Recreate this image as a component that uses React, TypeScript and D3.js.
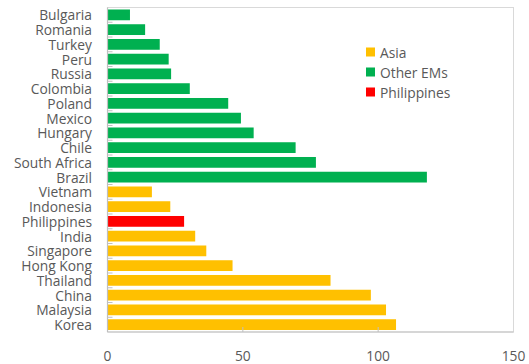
import React from "react";
import * as d3 from "d3";

// Categories listed top to bottom
const categories = [
  "Bulgaria", "Romania", "Turkey", "Peru", "Russia", "Colombia", "Poland",
  "Mexico", "Hungary", "Chile", "South Africa", "Brazil", "Vietnam",
  "Indonesia", "Philippines", "India", "Singapore", "Hong Kong", "Thailand",
  "China", "Malaysia", "Korea",
];
const values = [
  8.3, 13.9, 19.3, 22.6, 23.5, 30.4, 44.6, 49.3, 54.0, 69.5, 77.0, 118.0,
  16.4, 23.2, 28.3, 32.4, 36.5, 46.2, 82.4, 97.3, 102.9, 106.6,
];
const groups = [
  "Other EMs", "Other EMs", "Other EMs", "Other EMs", "Other EMs", "Other EMs",
  "Other EMs", "Other EMs", "Other EMs", "Other EMs", "Other EMs", "Other EMs",
  "Asia", "Asia", "Philippines", "Asia", "Asia", "Asia", "Asia", "Asia",
  "Asia", "Asia",
];
const legendItems = ["Asia", "Other EMs", "Philippines"];
const groupColors = ["#FFC000", "#00B050", "#FF0000"];
const xTicks = [0, 50, 100, 150];

const W = 529;
const H = 364;
const M = { left: 107.5, right: 15.5, top: 7.5, bottom: 32 };
const FONT = "'Open Sans', 'Segoe UI', sans-serif";
const TEXT = "#595959";
const FS = 13.8;

export default function App() {
  const x = d3.scaleLinear().domain([0, 150]).range([M.left, W - M.right]);
  const y = d3
    .scaleBand<string>()
    .domain(categories)
    .range([M.top, H - M.bottom])
    .paddingInner(0.27)
    .paddingOuter(0.135);
  const color = d3.scaleOrdinal<string, string>().domain(legendItems).range(groupColors);
  const step = y.step();
  const y0 = y.range()[0];
  const y1 = y.range()[1];

  return (
    <svg
      width={W}
      height={H}
      style={{ position: "absolute", left: 0, top: 0, fontFamily: FONT }}
    >
      {/* plot frame */}
      <rect
        x={x(0)}
        y={y0}
        width={x(150) - x(0)}
        height={y1 - y0}
        fill="none"
        stroke="#d9d9d9"
        strokeWidth={1}
      />
      {/* bars */}
      {categories.map((c, i) => (
        <rect
          key={c}
          x={x(0)}
          y={y(c)}
          width={x(values[i]) - x(0)}
          height={y.bandwidth()}
          fill={color(groups[i])}
        />
      ))}
      {/* category axis with inner ticks at band boundaries */}
      <line x1={x(0)} x2={x(0)} y1={y0} y2={y1} stroke="#bfbfbf" strokeWidth={1.2} />
      {d3.range(1, categories.length).map((k) => (
        <line
          key={k}
          x1={x(0)}
          x2={x(0) + 5}
          y1={y0 + k * step}
          y2={y0 + k * step}
          stroke="#bfbfbf"
          strokeWidth={1}
        />
      ))}
      {categories.map((c) => (
        <text
          key={c}
          x={92}
          y={(y(c) as number) + y.bandwidth() / 2}
          textAnchor="end"
          dominantBaseline="central"
          fontSize={FS}
          fill={TEXT}
        >
          {c}
        </text>
      ))}
      {/* value axis */}
      <line x1={x(0)} x2={x(150)} y1={y1} y2={y1} stroke="#bfbfbf" strokeWidth={1.2} />
      {xTicks.slice(1, -1).map((t) => (
        <line key={t} x1={x(t)} x2={x(t)} y1={y1} y2={y1 - 5} stroke="#bfbfbf" strokeWidth={1} />
      ))}
      {xTicks.map((t) => (
        <text
          key={t}
          x={x(t)}
          y={355}
          textAnchor="middle"
          dominantBaseline="central"
          fontSize={FS}
          fill={TEXT}
        >
          {t}
        </text>
      ))}
      {/* legend */}
      {legendItems.map((g, i) => (
        <g key={g} transform={`translate(366, ${52 + i * 20})`}>
          <rect x={0} y={-4.5} width={9} height={9} fill={color(g)} />
          <text x={14} y={0} dominantBaseline="central" fontSize={FS} fill={TEXT}>
            {g}
          </text>
        </g>
      ))}
    </svg>
  );
}
